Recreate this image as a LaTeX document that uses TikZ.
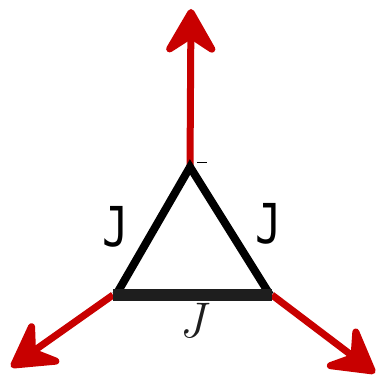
\documentclass[tikz,border=0pt]{standalone}
\usepackage{fontspec}
\newfontfamily\monofont{DejaVu Sans Mono}
\usetikzlibrary{arrows.meta}
\definecolor{arrred}{RGB}{200,0,0}
\definecolor{barblack}{RGB}{30,30,30}
\tikzset{
  redarrow/.style={draw=arrred, line width=7pt, -{Stealth[length=54pt 0 0,width=62pt 0 0,inset=20pt 0,round]}},
  side/.style={draw=black, line width=8pt},
  base/.style={draw=barblack, line width=12pt},
  monolabel/.style={font=\monofont\fontsize{55}{55}\selectfont, inner sep=0pt, xscale=0.8},
  italabel/.style={font=\fontsize{50}{50}\selectfont\itshape, inner sep=0pt, text=barblack}
}
\begin{document}
\begin{tikzpicture}[x=1pt,y=-1pt]
\useasboundingbox (0,0) rectangle (383,377);
\coordinate (T) at (190,167);
\coordinate (L) at (113,295);
\coordinate (R) at (272,295);
\coordinate (Ttip) at (191,9);
\coordinate (Ltip) at (11,367);
\coordinate (Rtip) at (375,373);
\draw[redarrow] (T) -- (Ttip);
\draw[redarrow] (L) -- (Ltip);
\draw[redarrow] (R) -- (Rtip);
\draw[side] ([xshift=3pt]L) -- (T) -- ([xshift=-2pt]R);
\draw[base] (L) -- (R);
\draw[line width=1pt] (197,163) -- (207,163);
\node[monolabel] (jl) at (116,227) {J};
\node[monolabel] (jr) at (269,224) {J};
\node[italabel] (jb) at (192,321) {J};
\end{tikzpicture}
\end{document}
